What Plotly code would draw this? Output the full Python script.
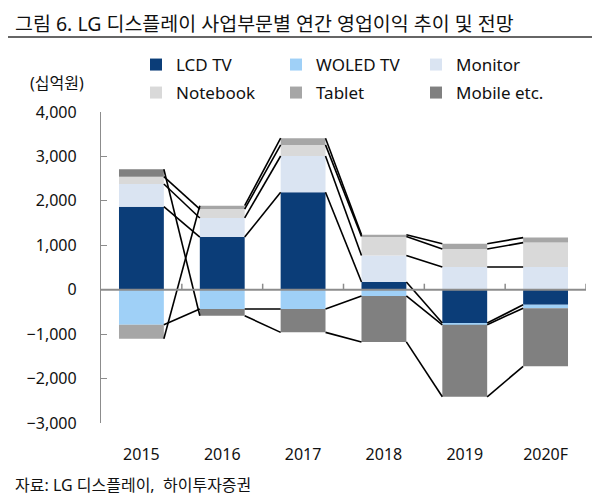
import plotly.graph_objects as go

years = ["2015", "2016", "2017", "2018", "2019", "2020F"]
series_names = ["LCD TV", "WOLED TV", "Monitor", "Notebook", "Tablet", "Mobile etc."]
lcd_tv = [1870, 1185, 2195, 175, -750, -340]
woled_tv = [-790, -435, -435, -140, -40, -75]
monitor = [510, 430, 815, 595, 510, 510]
notebook = [165, 200, 250, 430, 405, 550]
tablet = [-315, 75, 150, 38, 120, 113]
mobile = [165, -150, -525, -1035, -1620, -1310]
colors = ["#0B3D78", "#9FD0F7", "#DAE4F2", "#D9D9D9", "#A6A6A6", "#808080"]
y_ticks = [-3000, -2000, -1000, 0, 1000, 2000, 3000, 4000]

all_series = [lcd_tv, woled_tv, monitor, notebook, tablet, mobile]
x = list(range(len(years)))
bar_w = 0.555

FONT = "Noto Sans, Noto Sans CJK KR, sans-serif"

fig = go.Figure()

# stacked bars (relative mode stacks positives and negatives separately)
for k, (name, vals, col) in enumerate(zip(series_names, all_series, colors)):
    fig.add_trace(go.Bar(
        x=x, y=vals, name=name, marker=dict(color=col, line=dict(width=0)),
        width=bar_w, legend="legend" if k < 3 else "legend2",
    ))

# series lines: connect the stacked end of each series between adjacent bars
ends = []
pos = [0.0] * len(x)
neg = [0.0] * len(x)
for vals in all_series:
    e = []
    for i, v in enumerate(vals):
        if v >= 0:
            pos[i] += v
            e.append(pos[i])
        else:
            neg[i] += v
            e.append(neg[i])
    ends.append(e)

for e in ends:
    lx, ly = [], []
    for i in range(len(x) - 1):
        lx += [x[i] + bar_w / 2, x[i + 1] - bar_w / 2, None]
        ly += [e[i], e[i + 1], None]
    fig.add_trace(go.Scatter(x=lx, y=ly, mode="lines", line=dict(color="black", width=1.6),
                             showlegend=False, hoverinfo="skip"))

# zero line and category tick marks on it
fig.add_shape(type="line", xref="paper", yref="y", x0=0, x1=1, y0=0, y1=0,
              line=dict(color="#8C8C8C", width=2), layer="above")
for i in range(len(x)):
    fig.add_shape(type="line", xref="x", yref="y", x0=x[i] + 0.5, x1=x[i] + 0.5,
                  ysizemode="pixel", yanchor=0, y0=0, y1=6,
                  line=dict(color="#8C8C8C", width=1.5), layer="above")

# page body adds an 8px offset; lay out in page pixels
OFF = 8
W, H = 600 - OFF, 498 - OFF
L, R, T, B = 101 - OFF, 14, 112 - OFF, 75
pw, ph = W - L - R, H - T - B


def px_x(p):
    return (p - OFF - L) / pw


def px_y(p):
    return (H - B - (p - OFF)) / ph


# title and rule
fig.add_annotation(text="그림 6. LG 디스플레이 사업부문별 연간 영업이익 추이 및 전망",
                   xref="paper", yref="paper", x=px_x(13), y=px_y(8.2), xanchor="left", yanchor="top",
                   showarrow=False, font=dict(family=FONT, size=19.5, color="#111111"))
fig.add_shape(type="line", xref="paper", yref="paper", x0=px_x(8), x1=px_x(600),
              y0=px_y(37), y1=px_y(37), line=dict(color="#333333", width=1.5))
fig.add_annotation(text="(십억원)", xref="paper", yref="paper", x=px_x(57), y=px_y(83),
                   xanchor="center", yanchor="middle", showarrow=False,
                   font=dict(family=FONT, size=16, color="#111111"))
fig.add_annotation(text="자료: LG 디스플레이,  하이투자증권", xref="paper", yref="paper",
                   x=px_x(13), y=px_y(485), xanchor="left", yanchor="middle", showarrow=False,
                   font=dict(family=FONT, size=16, color="#111111"))

legend_common = dict(orientation="h", xanchor="left", yanchor="middle", entrywidth=95,
                     entrywidthmode="pixels", bgcolor="rgba(0,0,0,0)", borderwidth=0,
                     font=dict(family=FONT, size=17, color="#111111"), itemclick=False,
                     itemdoubleclick=False, traceorder="normal")

fig.update_layout(
    width=W, height=H,
    margin=dict(l=L, r=R, t=T, b=B),
    paper_bgcolor="white", plot_bgcolor="white",
    barmode="relative",
    showlegend=True,
    legend=dict(x=px_x(136), y=px_y(65), **legend_common),
    legend2=dict(x=px_x(136), y=px_y(93), **legend_common),
    font=dict(family=FONT, size=16, color="#111111"),
    xaxis=dict(range=[-0.5, len(x) - 0.5], tickmode="array", tickvals=x, ticktext=years,
               showline=False, showgrid=False, zeroline=False, ticks="",
               ticklabelstandoff=20, tickfont=dict(size=16)),
    yaxis=dict(range=[-3000, 4000], tickmode="array", tickvals=y_ticks, tickformat=",d",
               showline=True, linecolor="#8C8C8C", linewidth=1.3, ticks="inside", ticklen=6,
               tickcolor="#8C8C8C", tickwidth=1.3, showgrid=False, zeroline=False,
               ticklabelstandoff=20, tickfont=dict(size=16)),
)

fig.write_html("out.html")
